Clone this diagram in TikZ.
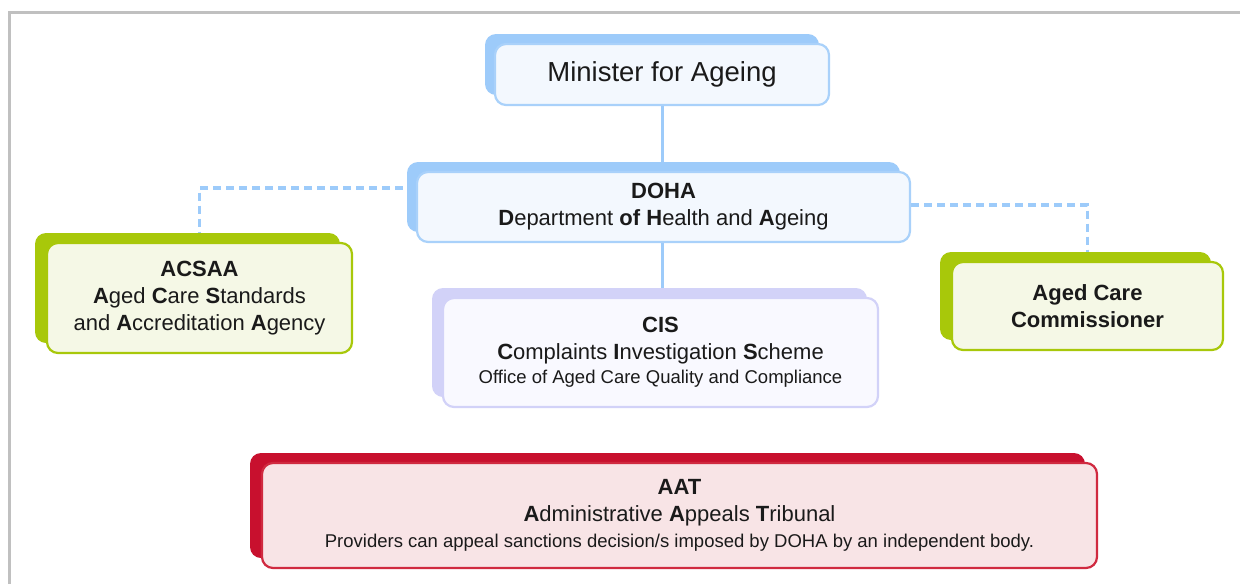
\documentclass[tikz,border=0pt]{standalone}
\usepackage{fontspec}
\setmainfont{Liberation Sans}
\usetikzlibrary{shadows,backgrounds}
\definecolor{bdark}{HTML}{9DCBFA}
\definecolor{bline}{HTML}{A9D1FA}
\definecolor{bfill}{HTML}{F3F8FE}
\definecolor{gdark}{HTML}{A8C80A}
\definecolor{gfill}{HTML}{F5F8E6}
\definecolor{ldark}{HTML}{D2D2F8}
\definecolor{lfill}{HTML}{F9F9FF}
\definecolor{rdark}{HTML}{C8102E}
\definecolor{rline}{HTML}{D02A40}
\definecolor{rfill}{HTML}{F8E4E6}
\definecolor{frame}{HTML}{C0C0C0}
\definecolor{textc}{HTML}{1A1A1A}
\tikzset{
  orgbox/.style={rounded corners=11pt, line width=2.2pt, align=center, inner sep=0pt, text=textc,
    font=\fontsize{22}{27}\selectfont},
  bluebox/.style={orgbox, draw=bline, fill=bfill,
    general shadow={fill=bdark, shadow xshift=-10pt, shadow yshift=10pt}},
  greenbox/.style={orgbox, draw=gdark, fill=gfill,
    general shadow={fill=gdark, shadow xshift=-12pt, shadow yshift=10pt}},
  lavbox/.style={orgbox, draw=ldark, fill=lfill,
    general shadow={fill=ldark, shadow xshift=-11pt, shadow yshift=10pt}},
  redbox/.style={orgbox, draw=rline, fill=rfill,
    general shadow={fill=rdark, shadow xshift=-12pt, shadow yshift=10pt}},
  solidlink/.style={draw=bdark, line width=3pt},
  dashlink/.style={draw=bdark, line width=3.8pt, dash pattern=on 8pt off 5pt},
  framestyle/.style={draw=frame, line width=3pt}
}
\begin{document}
\begin{tikzpicture}[x=1pt,y=-1pt]
\useasboundingbox (0,0) rectangle (1240,584);
\coordinate (fb) at (9.5,584);
\coordinate (fc) at (9.5,12.5);
\coordinate (fr) at (1240,12.5);
\draw[framestyle] (fb) -- (fc) -- (fr);

\node[bluebox, minimum width=334pt, minimum height=61pt, font=\fontsize{27.5}{30}\selectfont]
  (min) at (662,74.5) {Minister for Ageing};
\node[bluebox, minimum width=493pt, minimum height=70pt] (doha) at (663.5,207)
  {\textbf{DOHA}\\\textbf{D}epartment \textbf{of} \textbf{H}ealth and \textbf{A}geing};
\node[greenbox, minimum width=305pt, minimum height=110pt] (acsaa) at (199.5,298)
  {\textbf{ACSAA}\\\textbf{A}ged \textbf{C}are \textbf{S}tandards\\and \textbf{A}ccreditation \textbf{A}gency};
\node[greenbox, minimum width=271pt, minimum height=88pt] (acc) at (1087.5,306)
  {\textbf{Aged Care}\\\textbf{Commissioner}};
\node[lavbox, minimum width=435pt, minimum height=109pt] (cis) at (660.5,352.5)
  {\textbf{CIS}\\\textbf{C}omplaints \textbf{I}nvestigation \textbf{S}cheme\\[-3pt]
   {\fontsize{18.5}{22}\selectfont Office of Aged Care Quality and Compliance}};
\node[redbox, minimum width=835pt, minimum height=105pt] (aat) at (679.5,515.5)
  {\textbf{AAT}\\\textbf{A}dministrative \textbf{A}ppeals \textbf{T}ribunal\\[-1pt]
   {\fontsize{18.5}{22}\selectfont Providers can appeal sanctions decision/s imposed by DOHA by an independent body.}};

\begin{scope}[on background layer]
  \fill[white] (0,0) rectangle (1240,584);
  \draw[solidlink] (min.south) -- (min.south |- doha.north);
  \draw[solidlink] (cis.north -| min.south) -- (min.south |- doha.south);
  \draw[dashlink] ([yshift=19pt]doha.west) -| (acsaa.north);
  \draw[dashlink] ([yshift=2pt]doha.east) -| (acc.north);
\end{scope}
\end{tikzpicture}
\end{document}
